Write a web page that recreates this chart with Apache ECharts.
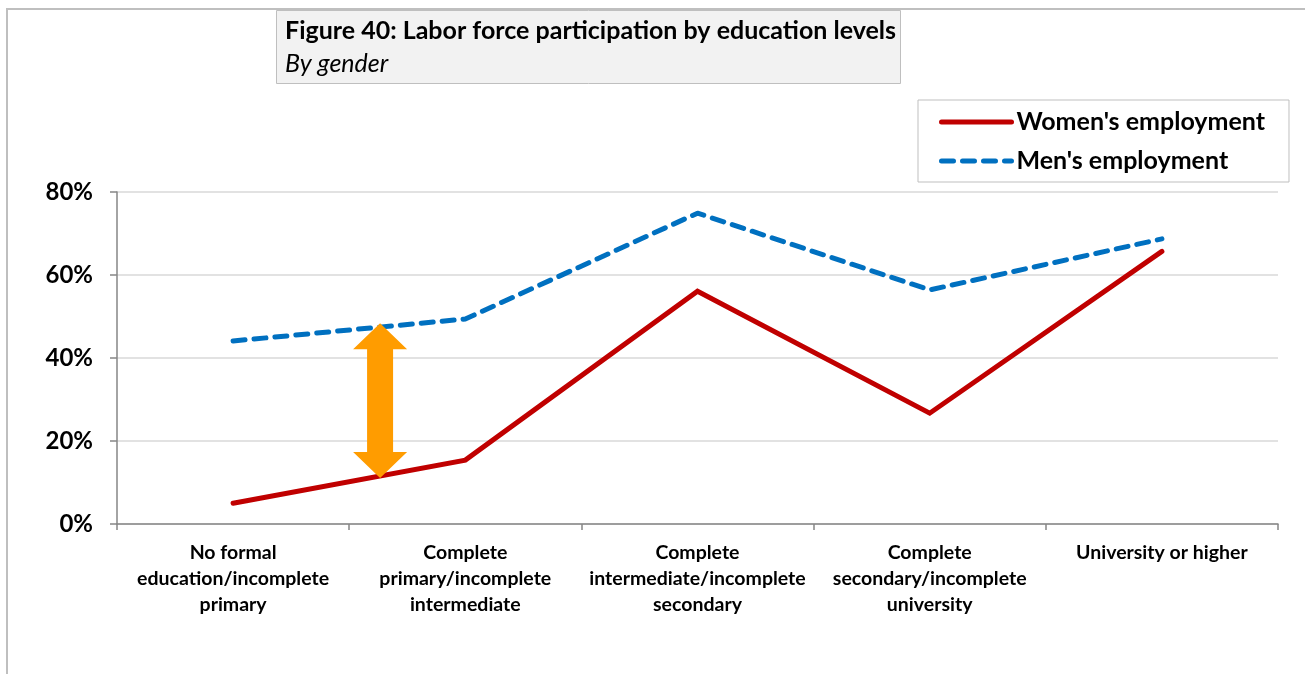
<!DOCTYPE html>
<html>
<head>
<meta charset="utf-8">
<script src="https://cdn.jsdelivr.net/npm/echarts@6/dist/echarts.min.js"></script>
<style>
  html, body { margin: 0; padding: 0; background: #fff; }
  #chart { width: 1305px; height: 674px; }
</style>
</head>
<body>
<div id="chart"></div>
<script>
// Education levels (x categories)
const categories = [
  'No formal\neducation/incomplete\nprimary',
  'Complete\nprimary/incomplete\nintermediate',
  'Complete\nintermediate/incomplete\nsecondary',
  'Complete\nsecondary/incomplete\nuniversity',
  'University or higher'
];

// Participation rates, percent
const womenEmployment = [5.0, 15.4, 56.1, 26.7, 65.7];
const menEmployment = [44.1, 49.4, 74.9, 56.4, 68.7];

// Y axis ticks, percent
const yTicks = [0, 20, 40, 60, 80];

// Gap arrow: position between the first two categories and its value span
const gapArrow = [[0, 11.1, 48.4, 0.633]];

const FONT = 'Lato, "Open Sans", sans-serif';

const chart = echarts.init(document.getElementById('chart'), null, { renderer: 'canvas' });

chart.setOption({
  animation: false,
  backgroundColor: '#ffffff',
  textStyle: { fontFamily: FONT },
  title: {
    text: 'Figure 40: Labor force participation by education levels',
    subtext: 'By gender',
    left: 276,
    top: 10,
    padding: [7, 5, 6, 9],
    itemGap: 5,
    backgroundColor: '#F2F2F2',
    borderColor: '#BFBFBF',
    borderWidth: 1,
    textStyle: { fontFamily: FONT, fontSize: 25, fontWeight: 'bold', color: '#000', lineHeight: 28 },
    subtextStyle: { fontFamily: FONT, fontSize: 25, fontStyle: 'italic', color: '#000', lineHeight: 28 }
  },
  graphic: [{
    type: 'rect',
    z: -1,
    silent: true,
    shape: { x: 7, y: 9, width: 1400, height: 700 },
    style: { fill: 'none', stroke: '#BFBFBF', lineWidth: 2 }
  }],
  legend: {
    data: ["Women's employment", "Men's employment"],
    orient: 'vertical',
    left: 918,
    top: 100,
    padding: [8, 24, 7, 21],
    itemWidth: 70,
    itemHeight: 28,
    itemGap: 11,
    borderColor: '#BFBFBF',
    borderWidth: 1,
    backgroundColor: '#fff',
    itemStyle: { opacity: 0 },
    lineStyle: { width: 5, cap: 'round' },
    textStyle: { fontFamily: FONT, fontSize: 25, fontWeight: 'bold', color: '#000', lineHeight: 28 }
  },
  grid: { left: 117, right: 27, top: 192, bottom: 150 },
  xAxis: {
    type: 'category',
    data: categories,
    boundaryGap: true,
    axisLine: { lineStyle: { color: '#868686', width: 1.5 } },
    axisTick: { show: true, length: 6, lineStyle: { color: '#868686', width: 1.5 } },
    axisLabel: {
      interval: 0,
      margin: 16,
      fontFamily: FONT,
      fontSize: 19.5,
      fontWeight: 'bold',
      color: '#000',
      lineHeight: 26,
      align: 'center',
      verticalAlign: 'top'
    }
  },
  yAxis: {
    type: 'value',
    min: yTicks[0],
    max: yTicks[yTicks.length - 1],
    interval: yTicks[1] - yTicks[0],
    axisLine: { show: true, lineStyle: { color: '#868686', width: 1.5 } },
    axisTick: { show: true, length: 7, lineStyle: { color: '#868686', width: 1.5 } },
    splitLine: { lineStyle: { color: '#D9D9D9', width: 1.5 } },
    axisLabel: {
      margin: 24,
      fontFamily: FONT,
      fontSize: 24,
      fontWeight: 'bold',
      color: '#000',
      formatter: '{value}%'
    }
  },
  series: [
    {
      name: "Women's employment",
      type: 'line',
      data: womenEmployment,
      symbol: 'none',
      z: 3,
      lineStyle: { color: '#C00000', width: 5, cap: 'round', join: 'miter' },
      itemStyle: { color: '#C00000' }
    },
    {
      name: "Men's employment",
      type: 'line',
      data: menEmployment,
      symbol: 'none',
      z: 2,
      lineStyle: { color: '#0070C0', width: 5, type: [12, 9], cap: 'round', join: 'round' },
      itemStyle: { color: '#0070C0' }
    },
    {
      name: 'gap',
      type: 'custom',
      z: 5,
      silent: true,
      data: gapArrow,
      encode: { x: 0, y: [1, 2] },
      renderItem: function (params, api) {
        const low = api.value(1), high = api.value(2), frac = api.value(3);
        const a0 = api.coord([0, low]), a1 = api.coord([1, low]);
        const b0 = api.coord([0, high]);
        const x = a0[0] + (a1[0] - a0[0]) * frac;
        const yBot = a0[1], yTop = b0[1];
        const headLen = 26, headHalf = 27, shaftHalf = 13;
        return {
          type: 'polygon',
          shape: {
            points: [
              [x, yTop],
              [x + headHalf, yTop + headLen],
              [x + shaftHalf, yTop + headLen],
              [x + shaftHalf, yBot - headLen],
              [x + headHalf, yBot - headLen],
              [x, yBot],
              [x - headHalf, yBot - headLen],
              [x - shaftHalf, yBot - headLen],
              [x - shaftHalf, yTop + headLen],
              [x - headHalf, yTop + headLen]
            ]
          },
          style: { fill: '#FF9C00', stroke: 'none' }
        };
      }
    }
  ]
});
</script>
</body>
</html>
